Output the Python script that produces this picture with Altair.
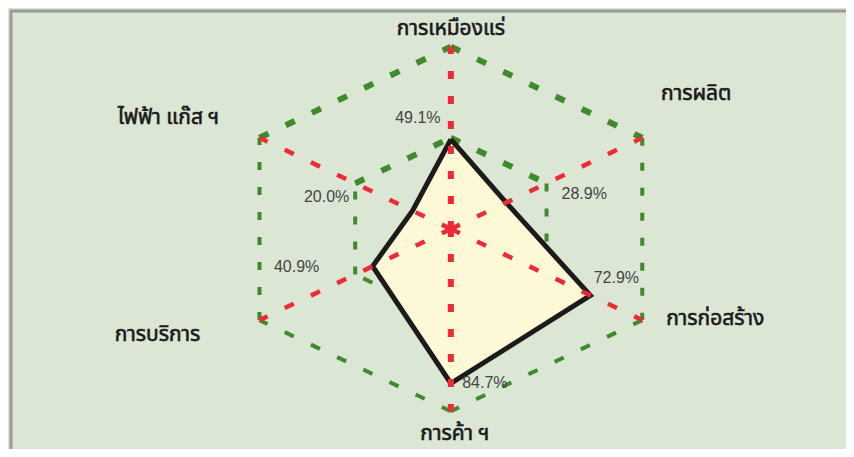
import math
import altair as alt
import pandas as pd

categories = ["การเหมืองแร่", "การผลิต", "การก่อสร้าง", "การค้า ฯ", "การบริการ", "ไฟฟ้า แก๊ส ฯ"]
values = [49.1, 28.9, 72.9, 84.7, 40.9, 20.0]
value_labels = ["49.1%", "28.9%", "72.9%", "84.7%", "40.9%", "20.0%"]
angles_deg = [90, 30, -30, -90, -150, 150]
ring_levels = [100, 50]

BG = "#dce6d4"
GREEN = "#3e8a2c"
RED = "#ee2a36"
THAI_FONT = "Noto Sans Thai, Noto Sans, sans-serif"

def pt(r, a):
    t = math.radians(a)
    return r * math.cos(t), r * math.sin(t)

# ring edges
ring_rows = []
for lvl in ring_levels:
    for i in range(6):
        x1, y1 = pt(lvl, angles_deg[i])
        x2, y2 = pt(lvl, angles_deg[(i + 1) % 6])
        top = i in (5, 0)  # edges touching the top vertex
        ring_rows.append(dict(level=lvl, x=x1, y=y1, x2=x2, y2=y2, top=top,
                              vert=abs(x1 - x2) < 1e-6))
rings = pd.DataFrame(ring_rows)

spoke_rows = []
for i, a in enumerate(angles_deg):
    x2, y2 = pt(100, a)
    spoke_rows.append(dict(x=0.0, y=0.0, x2=x2, y2=y2, vertical=a in (90, -90)))
spokes = pd.DataFrame(spoke_rows)

poly_rows = []
for i in range(7):
    k = i % 6
    x, y = pt(values[k], angles_deg[k])
    poly_rows.append(dict(order=i, x=x, y=y))
poly = pd.DataFrame(poly_rows)

xs = alt.Scale(domain=[-199.5, 177.9], nice=False, zero=False)
ys = alt.Scale(domain=[-119.6, 120.1], nice=False, zero=False)
X = lambda f: alt.X(f, type="quantitative", scale=xs, axis=None)
Y = lambda f: alt.Y(f, type="quantitative", scale=ys, axis=None)

base_r = alt.Chart(rings)
ring_top = base_r.transform_filter("datum.top").mark_rule(
    color=GREEN, strokeWidth=6, strokeDash=[10, 19]
).encode(x=X("x"), y=Y("y"), x2="x2", y2="y2")
ring_vert = base_r.transform_filter("datum.vert").mark_rule(
    color=GREEN, strokeWidth=4, strokeDash=[8, 17]
).encode(x=X("x"), y=Y("y"), x2="x2", y2="y2")
ring_bot = base_r.transform_filter("!datum.top && !datum.vert").mark_rule(
    color=GREEN, strokeWidth=4, strokeDash=[10, 19]
).encode(x=X("x"), y=Y("y"), x2="x2", y2="y2")

polygon = alt.Chart(poly).mark_line(
    fill="#fdf9d6", stroke="#1c1a1a", strokeWidth=5, strokeJoin="miter"
).encode(x=X("x"), y=Y("y"), order="order:Q")

base_s = alt.Chart(spokes)
spoke_v = base_s.transform_filter("datum.vertical").mark_rule(
    color=RED, strokeWidth=6, strokeDash=[8, 17]
).encode(x=X("x"), y=Y("y"), x2="x2", y2="y2")
spoke_d = base_s.transform_filter("!datum.vertical").mark_rule(
    color=RED, strokeWidth=4.5, strokeDash=[10, 19]
).encode(x=X("x"), y=Y("y"), x2="x2", y2="y2")

value_offsets = [(-33, -21), (78, -9), (26, -17), (34, 0), (-76, 1), (-86, -14)]
cat_offsets = [(0, -18), (54, -44), (73, -1), (4, 23), (-102, 15), (-91, -20)]

layers = [ring_top, ring_vert, ring_bot, polygon, spoke_v, spoke_d]

for i in range(6):
    x, y = pt(values[i], angles_deg[i])
    d = pd.DataFrame([dict(x=x, y=y, t=value_labels[i])])
    dx, dy = value_offsets[i]
    layers.append(alt.Chart(d).mark_text(
        font="Liberation Sans", fontSize=16, color="#444444", dx=dx, dy=dy
    ).encode(x=X("x"), y=Y("y"), text="t:N"))

for i in range(6):
    x, y = pt(100, angles_deg[i])
    d = pd.DataFrame([dict(x=x, y=y, t=categories[i])])
    dx, dy = cat_offsets[i]
    layers.append(alt.Chart(d).mark_text(
        font=THAI_FONT, fontSize=21, fontWeight="normal", color="#1a1a1a",
        stroke="#1a1a1a", strokeWidth=0.6, dx=dx, dy=dy
    ).encode(x=X("x"), y=Y("y"), text="t:N"))

# frame lines (top and left)
frame_top = alt.Chart(pd.DataFrame([{"a": 0}])).mark_rule(color="#9a9a9a", strokeWidth=3).encode(
    x=alt.value(0), x2=alt.value(838), y=alt.value(1))
frame_left = alt.Chart(pd.DataFrame([{"a": 0}])).mark_rule(color="#9a9a9a", strokeWidth=3).encode(
    x=alt.value(1), y=alt.value(0), y2=alt.value(441))
layers += [frame_top, frame_left]

chart = alt.layer(*layers).properties(
    width=838, height=441,
    autosize=alt.AutoSizeParams(type="fit", contains="padding"),
    padding=0, background=BG,
).configure_view(stroke=None)

chart.save("out.html", embed_options={"renderer": "svg", "actions": False})
